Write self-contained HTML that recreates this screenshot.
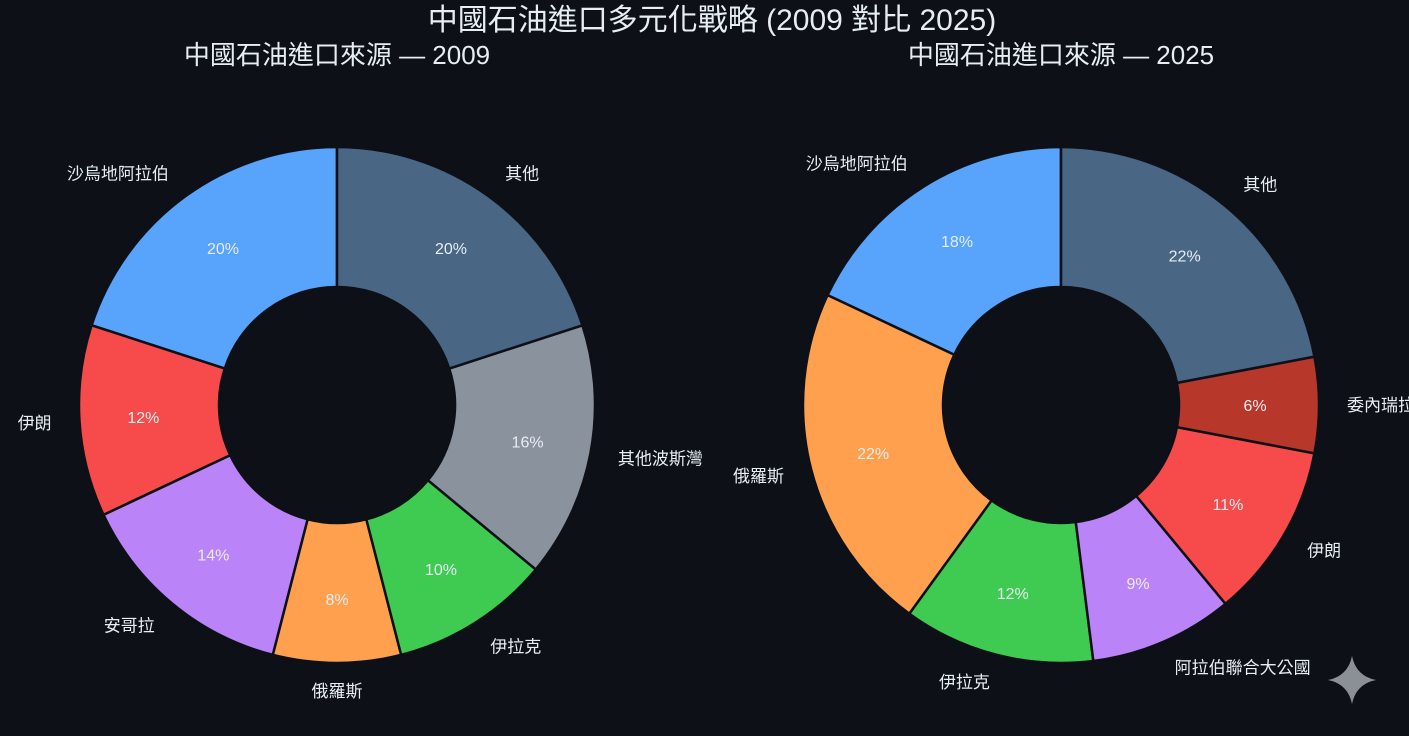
<!DOCTYPE html>
<html><head><meta charset="utf-8"><style>
html,body{margin:0;padding:0;background:#0d1117;}
svg{display:block;}
text{font-family:"Liberation Sans","Noto Sans CJK TC",sans-serif;fill:#e6edf3;}
</style></head><body>
<svg id="s" width="1409" height="736" viewBox="0 0 1409 736" xmlns="http://www.w3.org/2000/svg">
<rect width="1409" height="736" fill="#0d1117"/>
<text x="712" y="30" font-size="30" text-anchor="middle">中國石油進口多元化戰略 (2009 對比 2025)</text>
<text x="337" y="64" font-size="26" text-anchor="middle">中國石油進口來源 — 2009</text>
<text x="1061" y="64" font-size="26" text-anchor="middle">中國石油進口來源 — 2025</text>
<path d="M1352 656 Q1356 676 1376 680 Q1356 684 1352 704 Q1348 684 1328 680 Q1348 676 1352 656Z" fill="#8b8f96"/>
</svg>
<script>
var svg=document.getElementById('s'),NS='http://www.w3.org/2000/svg';
function el(t,a,txt){var e=document.createElementNS(NS,t);for(var k in a)e.setAttribute(k,a[k]);if(txt)e.textContent=txt;svg.appendChild(e);return e;}
function donut(cx,cy,data){var R=258,r=118,a=90;
data.forEach(function(d){var a0=a,a1=a+d[1]*3.6;a=a1;
function p(rr,an){var t=an*Math.PI/180;return [cx+rr*Math.cos(t),cy-rr*Math.sin(t)];}
var A=p(R,a0),B=p(R,a1),C=p(r,a1),D=p(r,a0),lg=(a1-a0)>180?1:0;
el('path',{d:'M'+A+' A'+R+' '+R+' 0 '+lg+' 0 '+B+' L'+C+' A'+r+' '+r+' 0 '+lg+' 1 '+D+'Z',fill:d[2],stroke:'#0d1117','stroke-width':2.5});
var m=(a0+a1)/2,P=p(194,m),L=p(286,m);
el('text',{x:P[0],y:P[1]+6,'font-size':16,'text-anchor':'middle'},d[1]+'%');
el('text',{x:L[0],y:L[1]+6,'font-size':17,'text-anchor':L[0]>cx+1?'start':(L[0]<cx-1?'end':'middle')},d[0]);
});}
donut(337,405,[['沙烏地阿拉伯',20,'#58a3fb'],['伊朗',12,'#f74b4b'],['安哥拉',14,'#bb83f8'],['俄羅斯',8,'#fea04d'],['伊拉克',10,'#3fcb51'],['其他波斯灣',16,'#8a929d'],['其他',20,'#4a6685']]);
donut(1061,405,[['沙烏地阿拉伯',18,'#58a3fb'],['俄羅斯',22,'#fea04d'],['伊拉克',12,'#3fcb51'],['阿拉伯聯合大公國',9,'#bb83f8'],['伊朗',11,'#f74b4b'],['委內瑞拉',6,'#b8372b'],['其他',22,'#4a6685']]);
</script>
</body></html>
